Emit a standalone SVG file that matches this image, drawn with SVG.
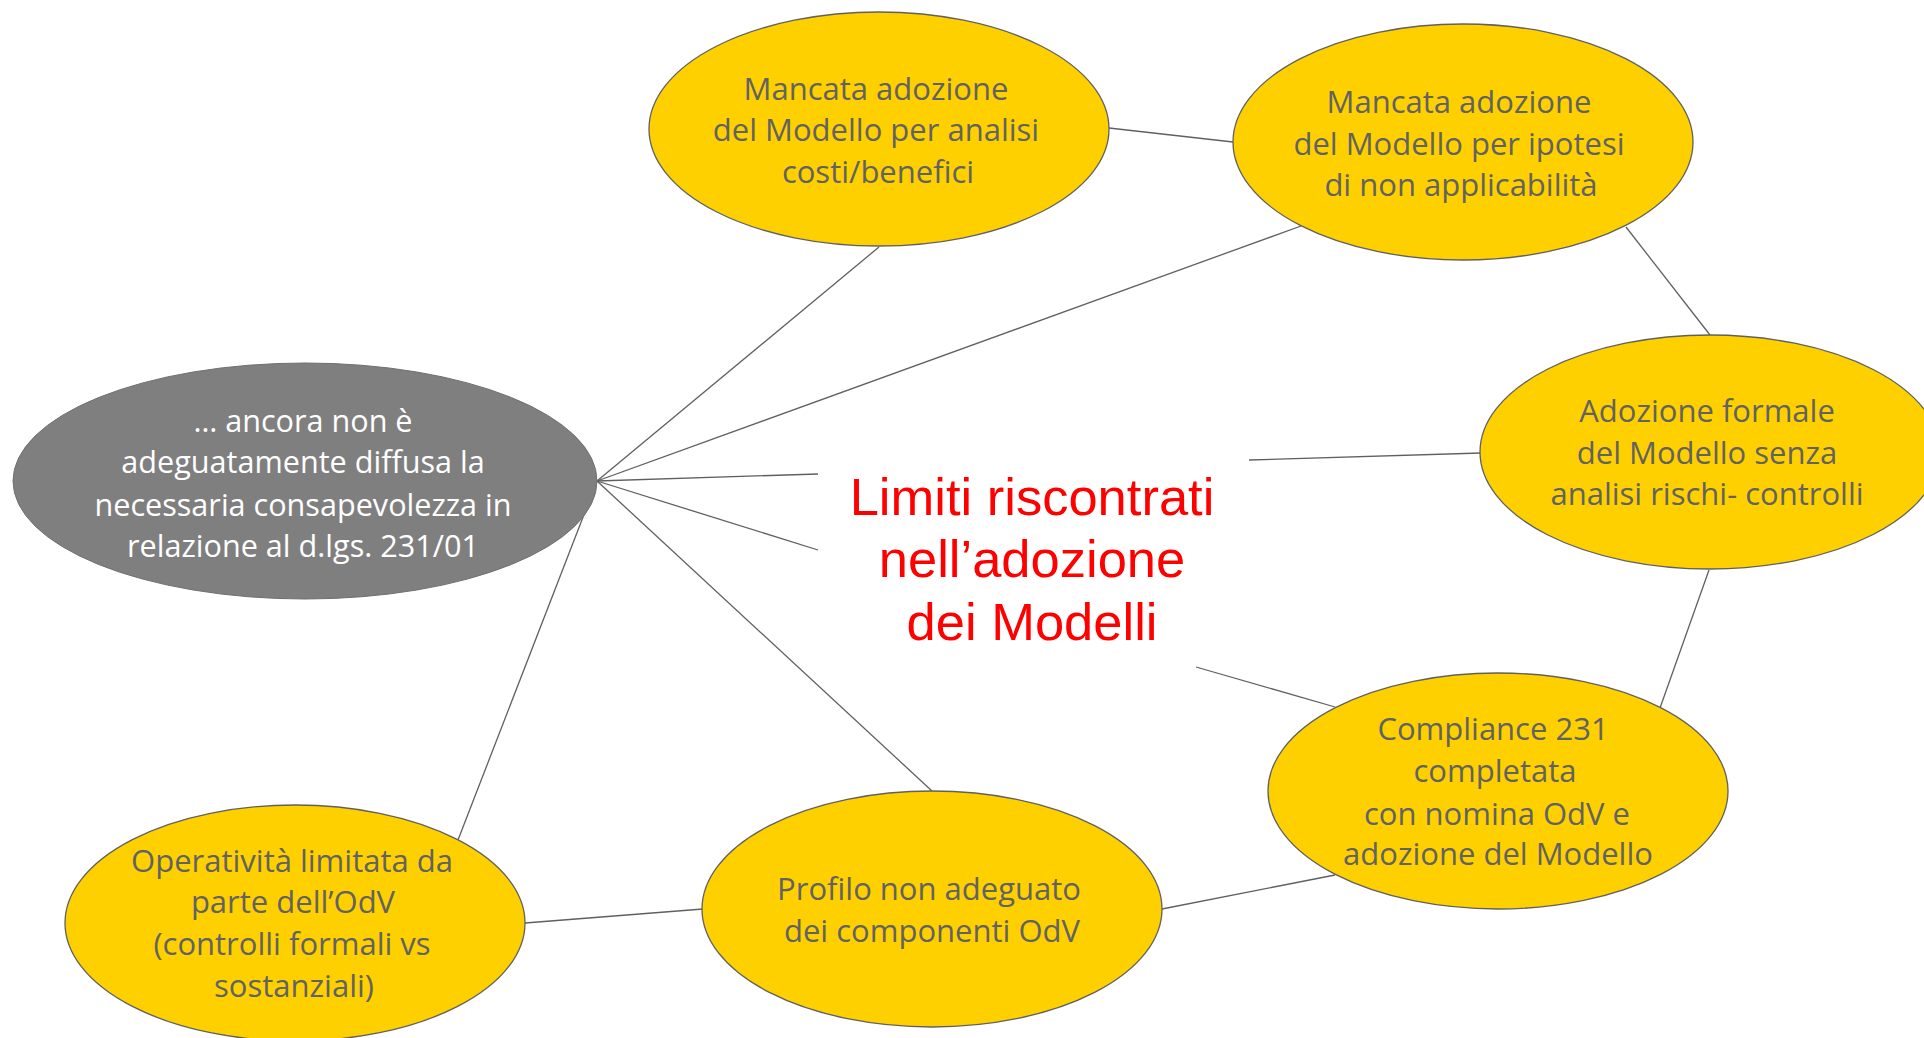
<svg xmlns="http://www.w3.org/2000/svg" width="1924" height="1038" viewBox="0 0 1924 1038">
<style>
.node{fill:#FFD000;stroke:#606060;stroke-width:1.3}
.dark{fill:#7F7F7F;stroke:#707070;stroke-width:1}
.t{font-family:"Open Sans","Liberation Sans",sans-serif;font-size:31px;fill:#626262;text-anchor:middle}
.tw{font-family:"Open Sans","Liberation Sans",sans-serif;font-size:30.6px;fill:#FFFFFF;text-anchor:middle}
.title{font-family:"Liberation Sans",Arial,sans-serif;font-size:52.5px;fill:#FF0000;text-anchor:middle}
.c{stroke:#606060;stroke-width:1.3;fill:none}
</style>
<rect width="1924" height="1038" fill="#FFFFFF"/>
<g id="connectors">
<line class="c" x1="597" y1="481" x2="879" y2="247"/>
<line class="c" x1="597" y1="481" x2="1301" y2="226"/>
<line class="c" x1="597" y1="481" x2="818" y2="474"/>
<line class="c" x1="597" y1="481" x2="818" y2="550"/>
<line class="c" x1="597" y1="481" x2="932" y2="791"/>
<line class="c" x1="597" y1="481" x2="458" y2="840"/>
<line class="c" x1="1109" y1="128" x2="1233" y2="142"/>
<line class="c" x1="1626" y1="227" x2="1710" y2="335"/>
<line class="c" x1="1249" y1="460" x2="1481" y2="453"/>
<line class="c" x1="1709" y1="570" x2="1660" y2="708"/>
<line class="c" x1="1196" y1="667" x2="1335" y2="707"/>
<line class="c" x1="1162" y1="909" x2="1335" y2="875"/>
<line class="c" x1="525" y1="923" x2="703" y2="909"/>
</g>
<g id="title">
<text class="title" x="1032" y="515">Limiti riscontrati</text>
<text class="title" x="1032" y="577">nell’adozione</text>
<text class="title" x="1032" y="640">dei Modelli</text>
</g>
<g id="node-costi">
<ellipse class="node" cx="879" cy="129" rx="230" ry="117"/>
<text class="t" x="876" y="100">Mancata adozione</text>
<text class="t" x="876" y="141">del Modello per analisi</text>
<text class="t" x="878" y="183">costi/benefici</text>
</g>
<g id="node-ipotesi">
<ellipse class="node" cx="1463" cy="142" rx="230" ry="118"/>
<text class="t" x="1459" y="113">Mancata adozione</text>
<text class="t" x="1459" y="155">del Modello per ipotesi</text>
<text class="t" x="1461" y="196">di non applicabilità</text>
</g>
<g id="node-consapevolezza">
<ellipse class="dark" cx="305" cy="481" rx="292" ry="118"/>
<text class="tw" x="303" y="432">… ancora non è</text>
<text class="tw" x="303" y="473">adeguatamente diffusa la</text>
<text class="tw" x="303" y="516">necessaria consapevolezza in</text>
<text class="tw" x="303" y="557">relazione al d.lgs. 231/01</text>
</g>
<g id="node-adozione-formale">
<ellipse class="node" cx="1710" cy="452" rx="230" ry="117"/>
<text class="t" x="1707" y="422">Adozione formale</text>
<text class="t" x="1707" y="464">del Modello senza</text>
<text class="t" x="1707" y="505">analisi rischi- controlli</text>
</g>
<g id="node-compliance">
<ellipse class="node" cx="1498" cy="791" rx="230" ry="118"/>
<text class="t" x="1493" y="740">Compliance 231</text>
<text class="t" x="1495" y="782">completata</text>
<text class="t" x="1497" y="825">con nomina OdV e</text>
<text class="t" x="1498" y="865">adozione del Modello</text>
</g>
<g id="node-profilo">
<ellipse class="node" cx="932" cy="909" rx="230" ry="118"/>
<text class="t" x="929" y="900">Profilo non adeguato</text>
<text class="t" x="932" y="942">dei componenti OdV</text>
</g>
<g id="node-operativita">
<ellipse class="node" cx="295" cy="923" rx="230" ry="118"/>
<text class="t" x="292" y="872">Operatività limitata da</text>
<text class="t" x="293" y="913">parte dell’OdV</text>
<text class="t" x="292" y="955">(controlli formali vs</text>
<text class="t" x="294" y="997">sostanziali)</text>
</g>
</svg>
